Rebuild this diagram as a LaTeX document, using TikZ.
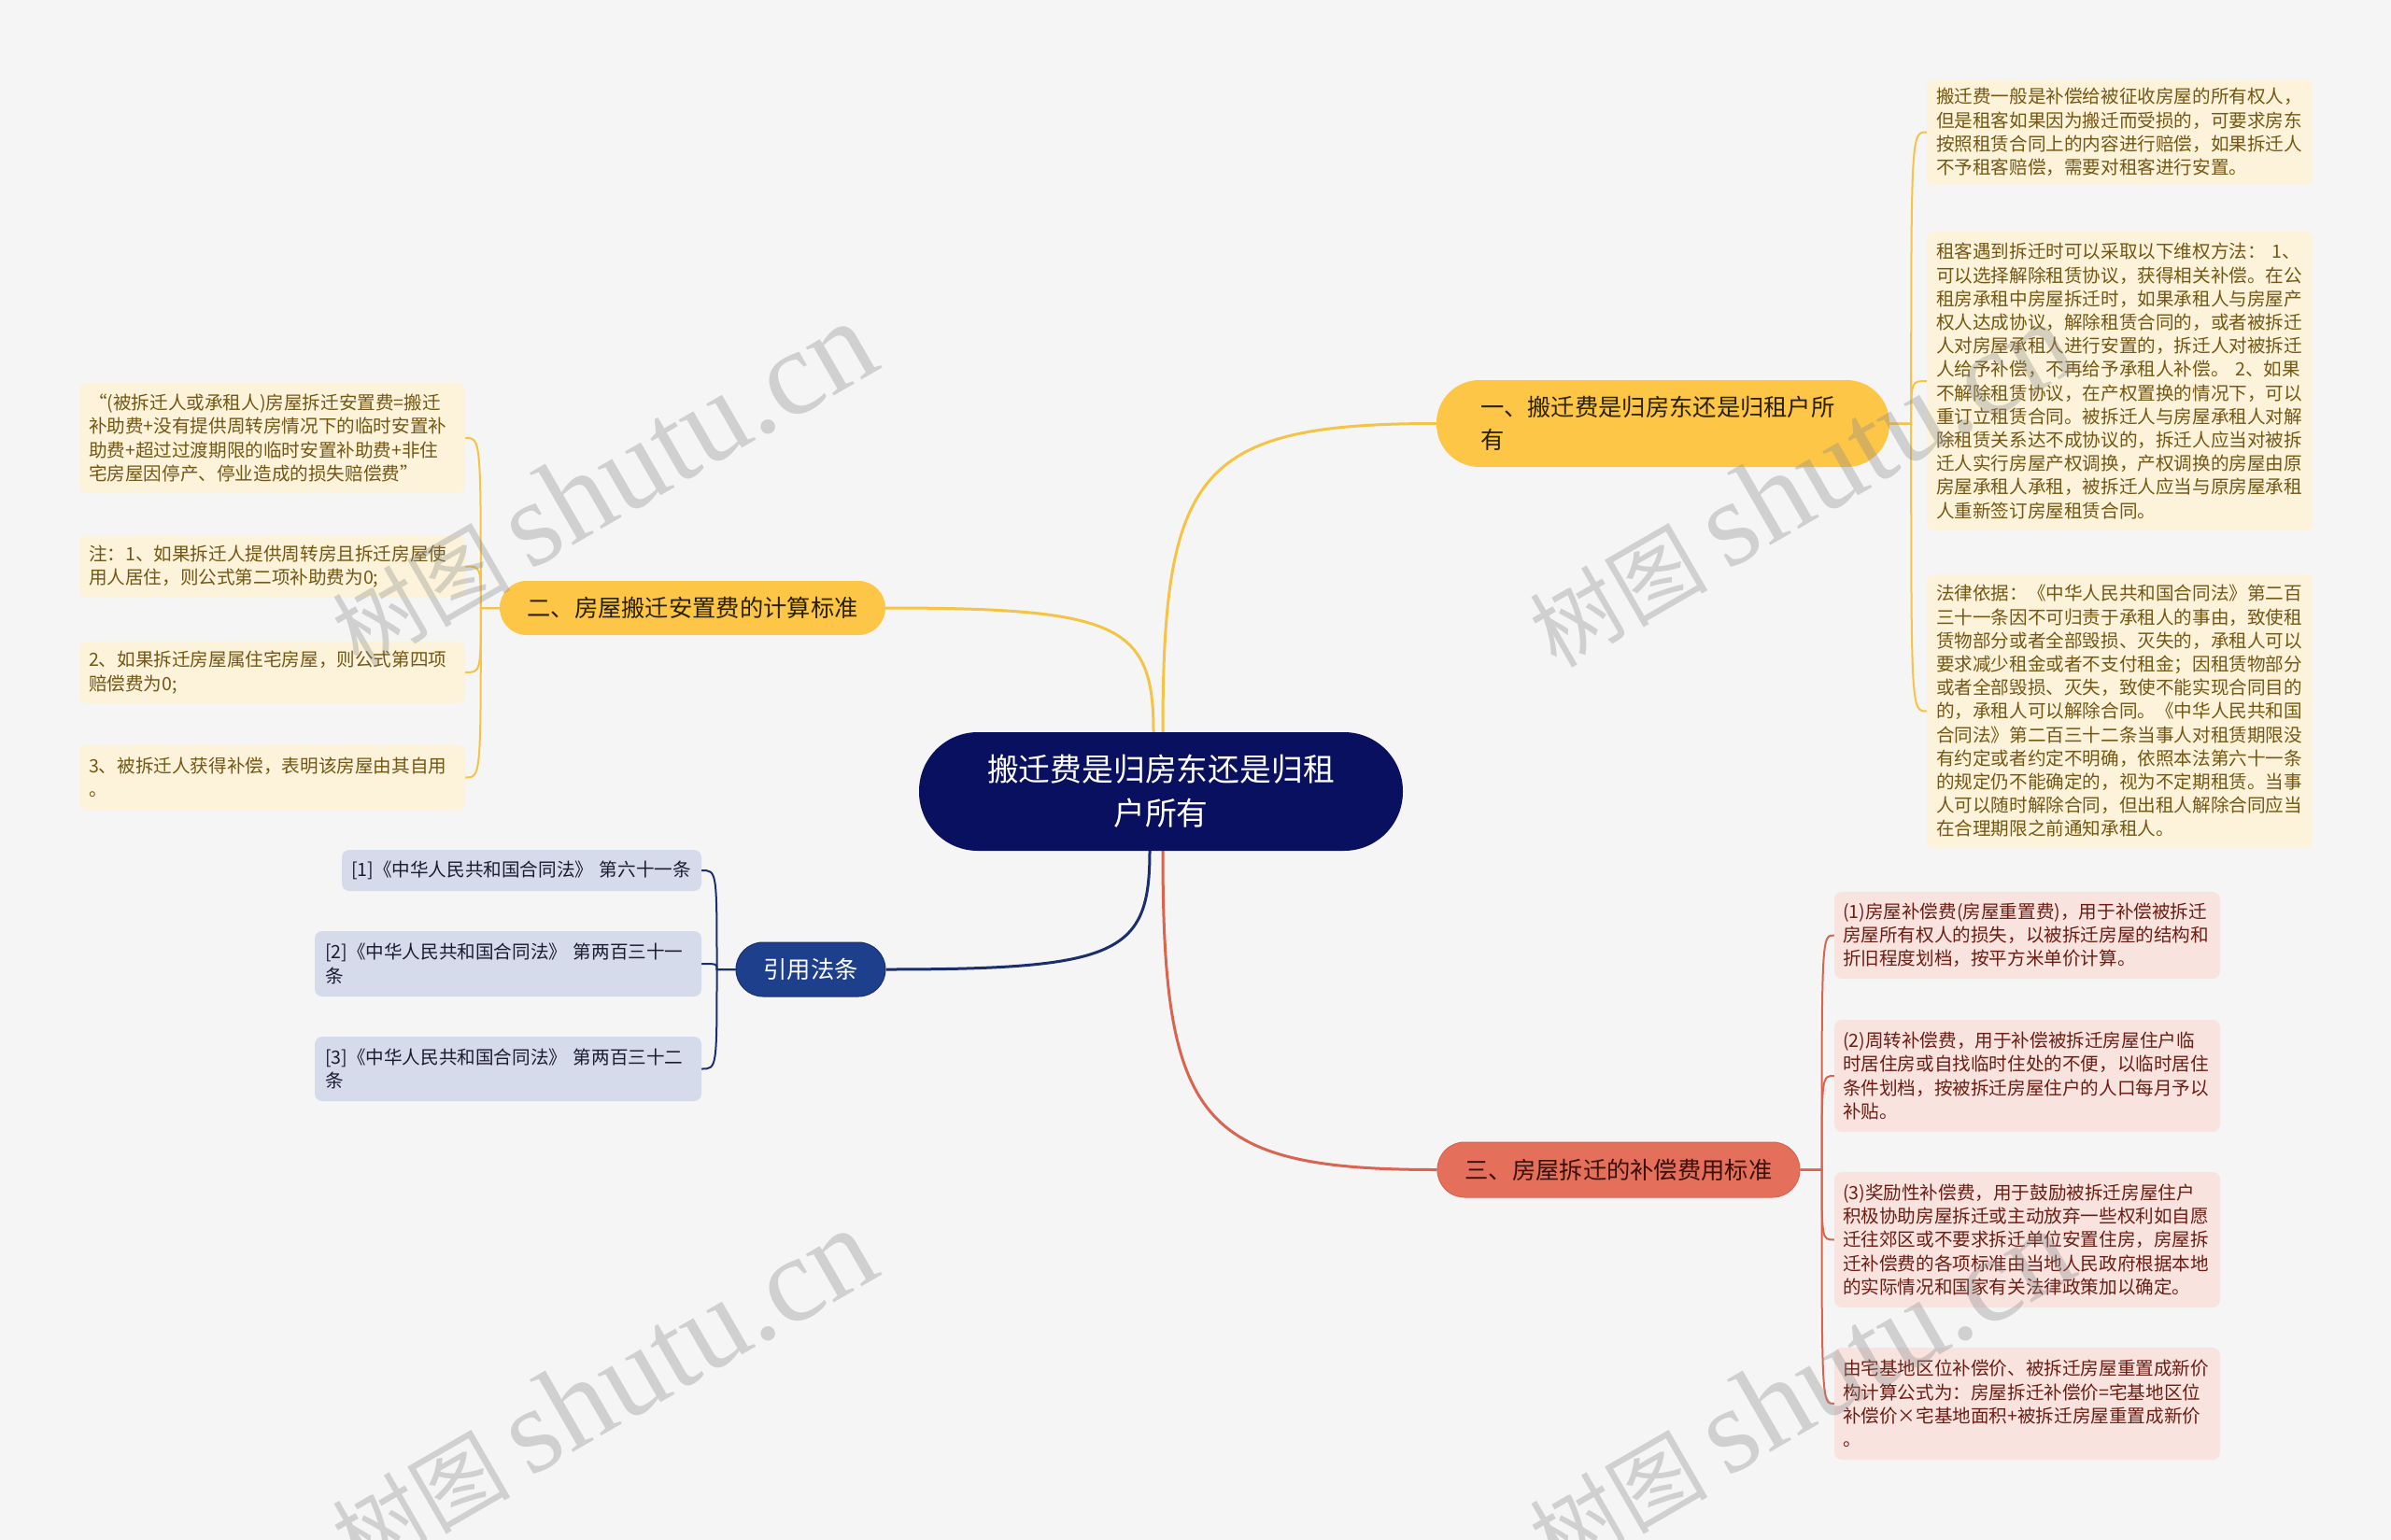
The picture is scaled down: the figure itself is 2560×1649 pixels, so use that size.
\documentclass[tikz,border=0pt]{standalone}
\usepackage{fontspec}
\setmainfont{Noto Sans CJK SC}
\newfontfamily\wmserif{Liberation Serif}
\usetikzlibrary{calc}
\pgfdeclarelayer{bg}
\pgfsetlayers{bg,main}
\definecolor{bgc}{HTML}{F5F5F5}
\definecolor{navy}{HTML}{0A1060}
\definecolor{ybr}{HTML}{FDC647}
\definecolor{yline}{HTML}{F5C445}
\definecolor{yleaf}{HTML}{FDF3DA}
\definecolor{ytext}{HTML}{735714}
\definecolor{ybrtext}{HTML}{2A2000}
\definecolor{rbr}{HTML}{E4705B}
\definecolor{rline}{HTML}{D9644F}
\definecolor{rleaf}{HTML}{F9E3DF}
\definecolor{rtext}{HTML}{6A1E14}
\definecolor{rbrtext}{HTML}{3B1009}
\definecolor{bbr}{HTML}{1E3F8C}
\definecolor{bline}{HTML}{1B2F6E}
\definecolor{bleaf}{HTML}{D5DBEA}
\definecolor{btext}{HTML}{1C1C30}
\tikzset{
  rootnode/.style={fill=navy, text=white, rounded corners=63pt, minimum width=518pt, minimum height=127pt, align=center, inner sep=0pt, font=\fontsize{33.8pt}{47pt}\selectfont},
  brbase/.style={inner ysep=0pt, font=\fontsize{25.3pt}{35pt}\selectfont},
  ybranch/.style={brbase, fill=ybr, text=ybrtext},
  rbranch/.style={brbase, fill=rbr, draw=rline, line width=1pt, text=rbrtext},
  bbranch/.style={brbase, fill=bbr, draw=bline, line width=1pt, text=white},
  leafbase/.style={rounded corners=8pt, align=left, inner xsep=10pt, inner ysep=0pt, font=\fontsize{19.6pt}{25.2pt}\selectfont},
  yleafbox/.style={leafbase, fill=yleaf, text=ytext},
  rleafbox/.style={leafbase, fill=rleaf, text=rtext},
  bleafbox/.style={leafbase, fill=bleaf, text=btext},
  mainline/.style={line width=3pt},
  leafline/.style={line width=2pt},
  wm/.style={text=black!45, opacity=0.35, rotate=30, inner sep=0pt}
}
\begin{document}
\begin{tikzpicture}[x=1pt,y=-1pt]
\begin{pgfonlayer}{bg}
\fill[bgc] (0,0) rectangle (2560,1649);
\end{pgfonlayer}
\useasboundingbox (0,0) rectangle (2560,1649);

% root
\node[rootnode] (root) at (1243,847.5) {搬迁费是归房东还是归租\\户所有};

% branches
\node[ybranch, rounded corners=46pt, minimum height=93pt, text width=391pt, inner xsep=47pt, align=left] (b1) at (1780.5,453.5) {一、搬迁费是归房东还是归租户所\\有};
\node[ybranch, rounded corners=29pt, minimum height=58pt, minimum width=413pt, inner xsep=0pt] (b2) at (741.5,651) {二、房屋搬迁安置费的计算标准};
\node[rbranch, rounded corners=29pt, minimum height=59pt, minimum width=388pt, inner xsep=0pt] (b3) at (1733,1252.5) {三、房屋拆迁的补偿费用标准};
\node[bbranch, rounded corners=29pt, minimum height=58pt, minimum width=160pt, inner xsep=0pt] (b4) at (868,1038) {引用法条};

% branch 1 leaves
\node[yleafbox, text width=393pt, minimum height=113pt] (l1a) at (2269.5,141.5) {搬迁费一般是补偿给被征收房屋的所有权人，\\但是租客如果因为搬迁而受损的，可要求房东\\按照租赁合同上的内容进行赔偿，如果拆迁人\\不予租客赔偿，需要对租客进行安置。};
\node[yleafbox, text width=393pt, minimum height=320pt] (l1b) at (2269.5,408) {租客遇到拆迁时可以采取以下维权方法： 1、\\可以选择解除租赁协议，获得相关补偿。在公\\租房承租中房屋拆迁时，如果承租人与房屋产\\权人达成协议，解除租赁合同的，或者被拆迁\\人对房屋承租人进行安置的，拆迁人对被拆迁\\人给予补偿，不再给予承租人补偿。 2、如果\\不解除租赁协议，在产权置换的情况下，可以\\重订立租赁合同。被拆迁人与房屋承租人对解\\除租赁关系达不成协议的，拆迁人应当对被拆\\迁人实行房屋产权调换，产权调换的房屋由原\\房屋承租人承租，被拆迁人应当与原房屋承租\\人重新签订房屋租赁合同。};
\node[yleafbox, text width=393pt, minimum height=293pt] (l1c) at (2269.5,761.5) {法律依据：《中华人民共和国合同法》第二百\\三十一条因不可归责于承租人的事由，致使租\\赁物部分或者全部毁损、灭失的，承租人可以\\要求减少租金或者不支付租金；因租赁物部分\\或者全部毁损、灭失，致使不能实现合同目的\\的，承租人可以解除合同。《中华人民共和国\\合同法》第二百三十二条当事人对租赁期限没\\有约定或者约定不明确，依照本法第六十一条\\的规定仍不能确定的，视为不定期租赁。当事\\人可以随时解除合同，但出租人解除合同应当\\在合理期限之前通知承租人。};

% branch 2 leaves
\node[yleafbox, text width=393pt, minimum height=118pt] (l2a) at (291.5,469) {“(被拆迁人或承租人)房屋拆迁安置费=搬迁\\补助费+没有提供周转房情况下的临时安置补\\助费+超过过渡期限的临时安置补助费+非住\\宅房屋因停产、停业造成的损失赔偿费”};
\node[yleafbox, text width=393pt, minimum height=67pt] (l2b) at (291.5,606.5) {注：1、如果拆迁人提供周转房且拆迁房屋使\\用人居住，则公式第二项补助费为0;};
\node[yleafbox, text width=393pt, minimum height=66pt] (l2c) at (291.5,720) {2、如果拆迁房屋属住宅房屋，则公式第四项\\赔偿费为0;};
\node[yleafbox, text width=393pt, minimum height=69pt] (l2d) at (291.5,832.5) {3、被拆迁人获得补偿，表明该房屋由其自用\\。};

% branch 4 leaves (citations)
\node[bleafbox, text width=365pt, inner xsep=10pt, minimum height=44pt] (c1) at (558.5,932) {[1]《中华人民共和国合同法》~第六十一条};
\node[bleafbox, text width=392pt, inner xsep=11pt, minimum height=70pt] (c2) at (544,1032) {[2]《中华人民共和国合同法》 第两百三十一\\条};
\node[bleafbox, text width=392pt, inner xsep=11pt, minimum height=69pt] (c3) at (544,1144.5) {[3]《中华人民共和国合同法》 第两百三十二\\条};

% branch 3 leaves
\node[rleafbox, text width=395pt, inner xsep=9pt, minimum height=93pt] (r1) at (2170.5,1001.5) {(1)房屋补偿费(房屋重置费)，用于补偿被拆迁\\房屋所有权人的损失，以被拆迁房屋的结构和\\折旧程度划档，按平方米单价计算。};
\node[rleafbox, text width=395pt, inner xsep=9pt, minimum height=120pt] (r2) at (2170.5,1152) {(2)周转补偿费，用于补偿被拆迁房屋住户临\\时居住房或自找临时住处的不便，以临时居住\\条件划档，按被拆迁房屋住户的人口每月予以\\补贴。};
\node[rleafbox, text width=395pt, inner xsep=9pt, minimum height=145pt] (r3) at (2170.5,1327.5) {(3)奖励性补偿费，用于鼓励被拆迁房屋住户\\积极协助房屋拆迁或主动放弃一些权利如自愿\\迁往郊区或不要求拆迁单位安置住房，房屋拆\\迁补偿费的各项标准由当地人民政府根据本地\\的实际情况和国家有关法律政策加以确定。};
\node[rleafbox, text width=395pt, inner xsep=9pt, minimum height=120pt] (r4) at (2170.5,1503) {由宅基地区位补偿价、被拆迁房屋重置成新价\\构计算公式为：房屋拆迁补偿价=宅基地区位\\补偿价×宅基地面积+被拆迁房屋重置成新价\\。};

% junction coordinates
\coordinate (j1) at ($(b1.east)+(23,0)$);
\coordinate (j2) at ($(b2.west)+(-20,0)$);
\coordinate (j3) at ($(b3.east)+(23,0)$);
\coordinate (j4) at ($(b4.west)+(-20,0)$);
\coordinate (s1) at ($(root.north)+(2,0)$);
\coordinate (s2) at ($(root.north)+(-8,0)$);
\coordinate (s3) at ($(root.south)+(2,0)$);
\coordinate (s4) at ($(root.south)+(-12,0)$);

\begin{pgfonlayer}{bg}
% root to branches
\draw[mainline, yline] (s1) .. controls +(0,-280) and +(-255,0) .. (b1.west);
\draw[mainline, yline] (s2) .. controls +(0,-115) and +(250,0) .. (b2.east);
\draw[mainline, rline] (s3) .. controls +(0,290) and +(-255,0) .. (b3.west);
\draw[mainline, bline] (s4) .. controls +(0,110) and +(250,0) .. (b4.east);
% branch to leaves
\foreach \n in {l1a,l1b,l1c}
  \draw[leafline, yline] (b1.east) -- (j1) .. controls (j1 |- \n.west) .. (\n.west);
\foreach \n in {l2a,l2b,l2c,l2d}
  \draw[leafline, yline] (b2.west) -- (j2) .. controls (j2 |- \n.east) .. (\n.east);
\foreach \n in {r1,r2,r3,r4}
  \draw[leafline, rline] (b3.east) -- (j3) .. controls (j3 |- \n.west) .. (\n.west);
\foreach \n in {c1,c2,c3}
  \draw[leafline, bline] (b4.west) -- (j4) .. controls (j4 |- \n.east) .. (\n.east);
\end{pgfonlayer}

% watermarks
\begin{scope}
\clip (0,0) rectangle (2560,1649);
\node[wm] (w1) at (645,519) {\fontsize{95pt}{95pt}\selectfont 树图 {\wmserif\fontsize{130pt}{130pt}\selectfont shutu.cn}};
\node[wm] (w2) at (1927,519) {\fontsize{95pt}{95pt}\selectfont 树图 {\wmserif\fontsize{130pt}{130pt}\selectfont shutu.cn}};
\node[wm] (w3) at (645,1490) {\fontsize{95pt}{95pt}\selectfont 树图 {\wmserif\fontsize{130pt}{130pt}\selectfont shutu.cn}};
\node[wm] (w4) at (1927,1490) {\fontsize{95pt}{95pt}\selectfont 树图 {\wmserif\fontsize{130pt}{130pt}\selectfont shutu.cn}};
\end{scope}
\end{tikzpicture}
\end{document}
